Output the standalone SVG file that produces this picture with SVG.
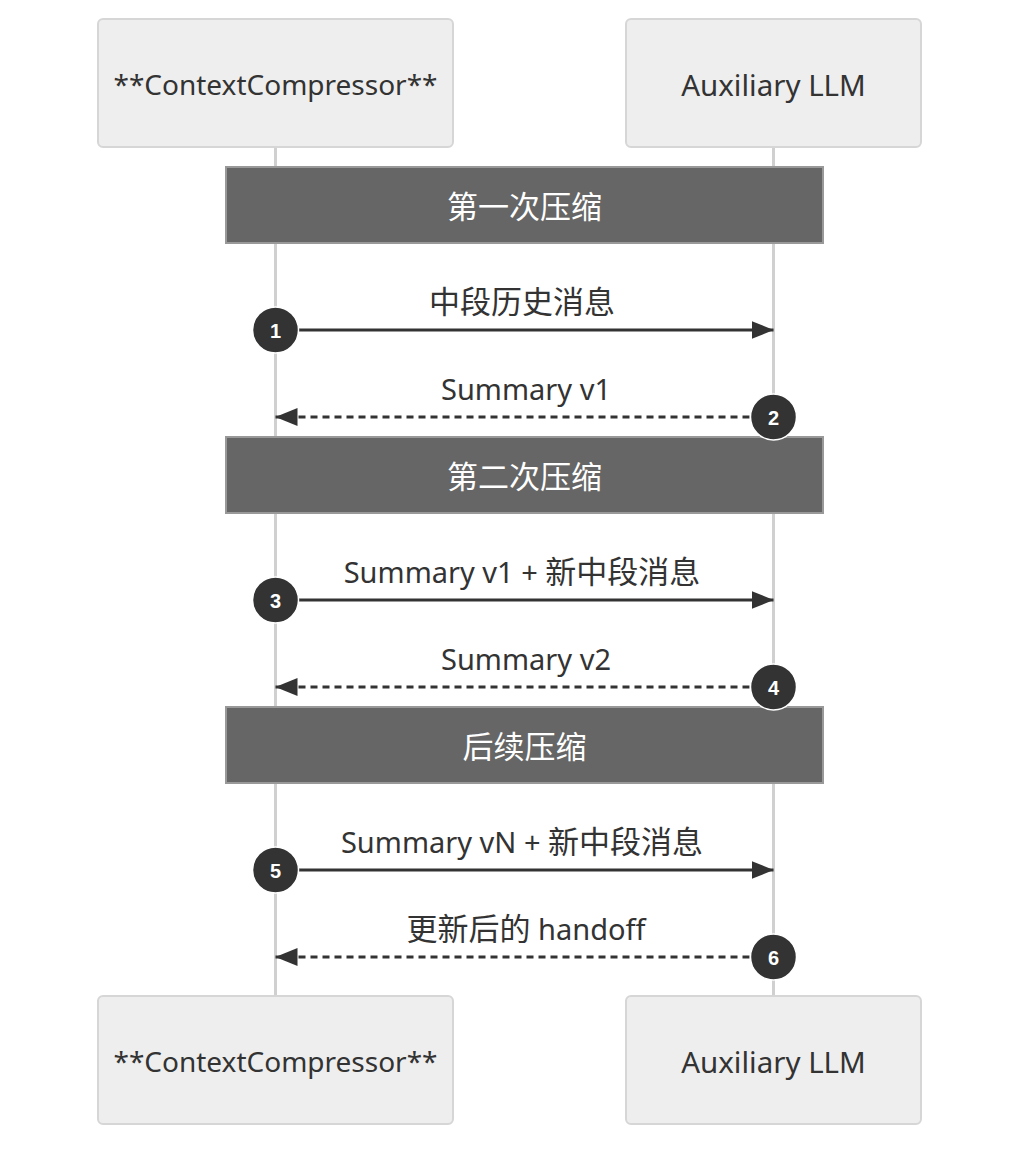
<svg xmlns="http://www.w3.org/2000/svg" width="1036" height="1164" viewBox="0 0 1036 1164">
<style>
.actor{fill:#eeeeee;stroke:#d6d6d6;stroke-width:2}
.atext{font-family:"Noto Sans","Noto Sans CJK SC",sans-serif;font-size:28px;fill:#333;text-anchor:middle;dominant-baseline:central}
.llm{font-size:29.5px}
.life{stroke:#d0d0d0;stroke-width:3}
.note{fill:#666666;stroke:#999;stroke-width:2}
.ntext{font-family:"Noto Sans","Noto Sans CJK SC",sans-serif;font-size:31px;fill:#fff;text-anchor:middle;dominant-baseline:central}
.msg{stroke:#333;stroke-width:3;fill:none}
.dash{stroke-dasharray:7 5}
.mtext{font-family:"Noto Sans","Noto Sans CJK SC",sans-serif;font-size:29px;fill:#333;text-anchor:middle;dominant-baseline:central}
.cjk{font-size:31px}
.seq{fill:#333;stroke:#fff;stroke-width:1.5}
.stext{font-family:"Liberation Sans",Arial,sans-serif;font-size:20px;font-weight:bold;fill:#fff;text-anchor:middle;dominant-baseline:central}
</style>
<defs>
<marker id="ah" markerWidth="22" markerHeight="18" refX="22" refY="9" orient="auto" markerUnits="userSpaceOnUse">
<path d="M0,0 L22,9 L0,18 Z" fill="#333"/>
</marker>
</defs>
<rect width="1036" height="1164" fill="#fff"/>
<g id="lifelines">
<line class="life" x1="275.5" y1="147" x2="275.5" y2="996"/>
<line class="life" x1="773.5" y1="147" x2="773.5" y2="996"/>
</g>
<g id="actor-cc-top"><rect class="actor" x="98" y="19" width="355" height="128" rx="5"/><text class="atext" x="275.5" y="84">**ContextCompressor**</text></g>
<g id="actor-llm-top"><rect class="actor" x="626" y="19" width="295" height="128" rx="5"/><text class="atext llm" x="773.5" y="84">Auxiliary LLM</text></g>
<g id="actor-cc-bottom"><rect class="actor" x="98" y="996" width="355" height="128" rx="5"/><text class="atext" x="275.5" y="1061">**ContextCompressor**</text></g>
<g id="actor-llm-bottom"><rect class="actor" x="626" y="996" width="295" height="128" rx="5"/><text class="atext llm" x="773.5" y="1061">Auxiliary LLM</text></g>
<g id="note1"><rect class="note" x="226" y="167" width="597" height="76"/><text class="ntext" x="524.5" y="206">第一次压缩</text></g>
<g id="note2"><rect class="note" x="226" y="437" width="597" height="76"/><text class="ntext" x="524.5" y="476">第二次压缩</text></g>
<g id="note3"><rect class="note" x="226" y="707" width="597" height="76"/><text class="ntext" x="524.5" y="746">后续压缩</text></g>
<g id="connectors">
<line class="msg" x1="275.5" y1="330" x2="773.5" y2="330" marker-end="url(#ah)"/>
<text class="mtext" x="522" y="301"><tspan class="cjk">中段历史消息</tspan></text>
<line class="msg dash" x1="773.5" y1="417" x2="275.5" y2="417" marker-end="url(#ah)"/>
<text class="mtext" x="526" y="388">Summary v1</text>
<line class="msg" x1="275.5" y1="600" x2="773.5" y2="600" marker-end="url(#ah)"/>
<text class="mtext" x="522" y="571">Summary v1 + <tspan class="cjk">新中段消息</tspan></text>
<line class="msg dash" x1="773.5" y1="687" x2="275.5" y2="687" marker-end="url(#ah)"/>
<text class="mtext" x="526" y="658">Summary v2</text>
<line class="msg" x1="275.5" y1="870" x2="773.5" y2="870" marker-end="url(#ah)"/>
<text class="mtext" x="522" y="841">Summary vN + <tspan class="cjk">新中段消息</tspan></text>
<line class="msg dash" x1="773.5" y1="957" x2="275.5" y2="957" marker-end="url(#ah)"/>
<text class="mtext" x="526" y="928"><tspan class="cjk">更新后的</tspan> handoff</text>
</g>
<g id="seq1"><circle class="seq" cx="275.5" cy="330" r="23"/><text class="stext" x="275.5" y="331">1</text></g>
<g id="seq2"><circle class="seq" cx="773.5" cy="417" r="23"/><text class="stext" x="773.5" y="418">2</text></g>
<g id="seq3"><circle class="seq" cx="275.5" cy="600" r="23"/><text class="stext" x="275.5" y="601">3</text></g>
<g id="seq4"><circle class="seq" cx="773.5" cy="687" r="23"/><text class="stext" x="773.5" y="688">4</text></g>
<g id="seq5"><circle class="seq" cx="275.5" cy="870" r="23"/><text class="stext" x="275.5" y="871">5</text></g>
<g id="seq6"><circle class="seq" cx="773.5" cy="957" r="23"/><text class="stext" x="773.5" y="958">6</text></g>
</svg>
